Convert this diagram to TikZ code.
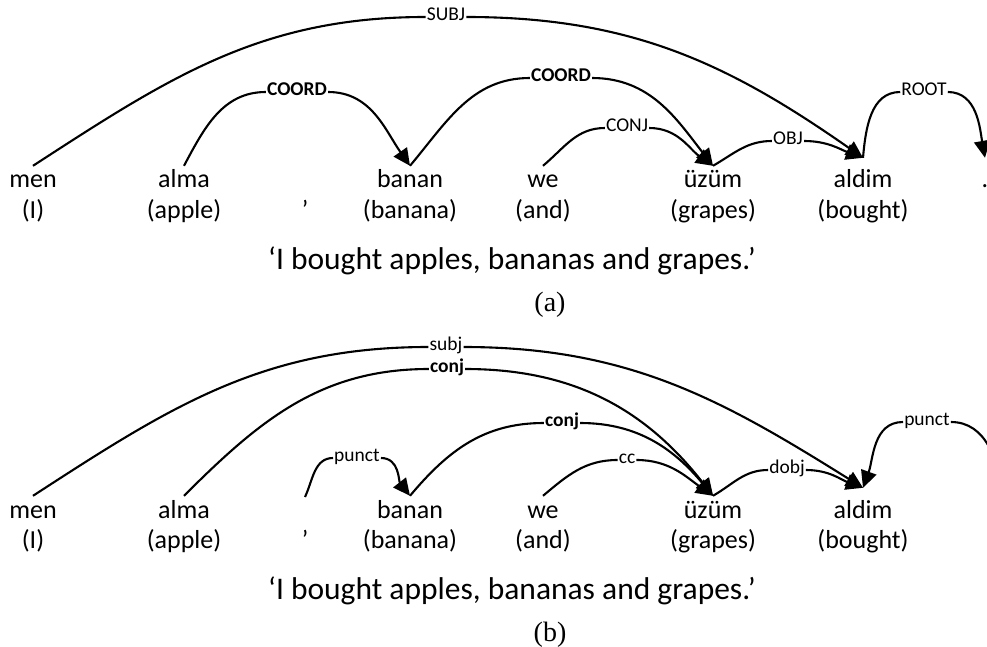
\documentclass[tikz,border=0pt]{standalone}
\usepackage{fontspec}
\setmainfont{Carlito}
\newfontfamily\capfont{Liberation Serif}
\usetikzlibrary{arrows.meta}

\tikzset{
  word/.style={anchor=base, inner sep=2pt, text height=20pt, text depth=0pt,
    font=\fontsize{26}{30}\selectfont},
  gloss/.style={anchor=base, inner sep=2pt, font=\fontsize{26}{30}\selectfont},
  sent/.style={anchor=base, inner sep=2pt, font=\fontsize{31.5}{36}\selectfont},
  panel/.style={anchor=base, inner sep=2pt, font=\capfont\fontsize{28}{32}\selectfont},
  rel/.style={inner sep=1pt, text height=0.62em, text depth=0pt,
    font=\fontsize{19.5}{22}\selectfont},
  relb/.style={rel, font=\bfseries\fontsize{19.5}{22}\selectfont},
  dep/.style={line width=2.1pt, -{Triangle[length=17pt,width=16pt]}}
}

\begin{document}
\begin{tikzpicture}[x=1pt,y=1pt]
  \useasboundingbox (0,0) rectangle (987,-647);

  % (a)
  \node[word] (menA) at (33,-188) {men};
  \node[gloss] (menAg) at (33,-218) {(I)};
  \node[word] (almaA) at (184,-188) {alma};
  \node[gloss] (almaAg) at (184,-218) {(apple)};
  \node[gloss] (commaAg) at (305,-218) {’};
  \node[word] (bananA) at (410,-188) {banan};
  \node[gloss] (bananAg) at (410,-218) {(banana)};
  \node[word] (weA) at (543,-188) {we};
  \node[gloss] (weAg) at (543,-218) {(and)};
  \node[word] (uzumA) at (713,-188) {üzüm};
  \node[gloss] (uzumAg) at (713,-218) {(grapes)};
  \node[word] (aldimA) at (863,-188) {aldim};
  \node[gloss] (aldimAg) at (863,-218) {(bought)};
  \node[word] (dotA) at (985,-188) {.};
  \node[sent] (transA) at (512,-269) {‘I bought apples, bananas and grapes.’};
  \node[panel] (capA) at (550,-311) {(a)};

  \node[rel] (subjA) at (446,-17) {SUBJ};
  \node[relb] (coordA) at (297,-92) {COORD};
  \node[relb] (coordAA) at (561,-78) {COORD};
  \node[rel] (conjA) at (627,-128) {CONJ};
  \node[rel] (objA) at (788,-141) {OBJ};
  \node[rel] (rootA) at (924,-92) {ROOT};

  \draw[dep] (menA.north) to[out=33,in=180] (subjA.west)
    (subjA.east) to[out=0,in=145] ([yshift=8pt]aldimA.north);
  \draw[dep] (almaA.north) to[out=62,in=180] (coordA.west)
    (coordA.east) to[out=0,in=125] (bananA.north);
  \draw[dep] (bananA.north) to[out=50,in=180] (coordAA.west)
    (coordAA.east) to[out=0,in=128] (uzumA.north);
  \draw[dep] (weA.north) to[out=40,in=180] (conjA.west)
    (conjA.east) to[out=0,in=145] (uzumA.north);
  \draw[dep] (uzumA.north) to[out=30,in=180] (objA.west)
    (objA.east) to[out=0,in=160] ([yshift=8pt]aldimA.north);
  \draw[dep] ([yshift=8pt]aldimA.north) to[out=85,in=180] (rootA.west)
    (rootA.east) to[out=0,in=100] ([yshift=8pt]dotA.north);

  % (b)
  \node[word] (menB) at (33,-518) {men};
  \node[gloss] (menBg) at (33,-548) {(I)};
  \node[word] (almaB) at (184,-518) {alma};
  \node[gloss] (almaBg) at (184,-548) {(apple)};
  \coordinate (commaB) at (305,-497);
  \node[gloss] (commaBg) at (305,-548) {’};
  \node[word] (bananB) at (410,-518) {banan};
  \node[gloss] (bananBg) at (410,-548) {(banana)};
  \node[word] (weB) at (543,-518) {we};
  \node[gloss] (weBg) at (543,-548) {(and)};
  \node[word] (uzumB) at (713,-518) {üzüm};
  \node[gloss] (uzumBg) at (713,-548) {(grapes)};
  \node[word] (aldimB) at (863,-518) {aldim};
  \node[gloss] (aldimBg) at (863,-548) {(bought)};
  \coordinate (dotB) at (1002,-496);
  \node[sent] (transB) at (512,-599) {‘I bought apples, bananas and grapes.’};
  \node[panel] (capB) at (550,-641) {(b)};

  \node[rel] (subjB) at (446,-347) {subj};
  \node[relb] (conjB) at (447,-369) {conj};
  \node[rel] (punctB) at (357,-458) {punct};
  \node[relb] (conjBB) at (562,-423) {conj};
  \node[rel] (ccB) at (627,-460) {cc};
  \node[rel] (dobjB) at (787,-470) {dobj};
  \node[rel] (punctBB) at (927,-422) {punct};

  \draw[dep] (menB.north) to[out=33,in=180] (subjB.west)
    (subjB.east) to[out=0,in=148] ([yshift=8pt]aldimB.north);
  \draw[dep] (almaB.north) to[out=45,in=180] (conjB.west)
    (conjB.east) to[out=0,in=128] (uzumB.north);
  \draw[dep] (commaB) to[out=65,in=180] (punctB.west)
    (punctB.east) to[out=0,in=128] (bananB.north);
  \draw[dep] (bananB.north) to[out=50,in=180] (conjBB.west)
    (conjBB.east) to[out=0,in=130] (uzumB.north);
  \draw[dep] (weB.north) to[out=40,in=180] (ccB.west)
    (ccB.east) to[out=0,in=145] (uzumB.north);
  \draw[dep] (uzumB.north) to[out=30,in=180] (dobjB.west)
    (dobjB.east) to[out=0,in=160] ([yshift=8pt]aldimB.north);
  \draw[dep] (dotB) to[out=95,in=0] (punctBB.east)
    (punctBB.west) to[out=180,in=70] ([yshift=8pt]aldimB.north);
\end{tikzpicture}
\end{document}
